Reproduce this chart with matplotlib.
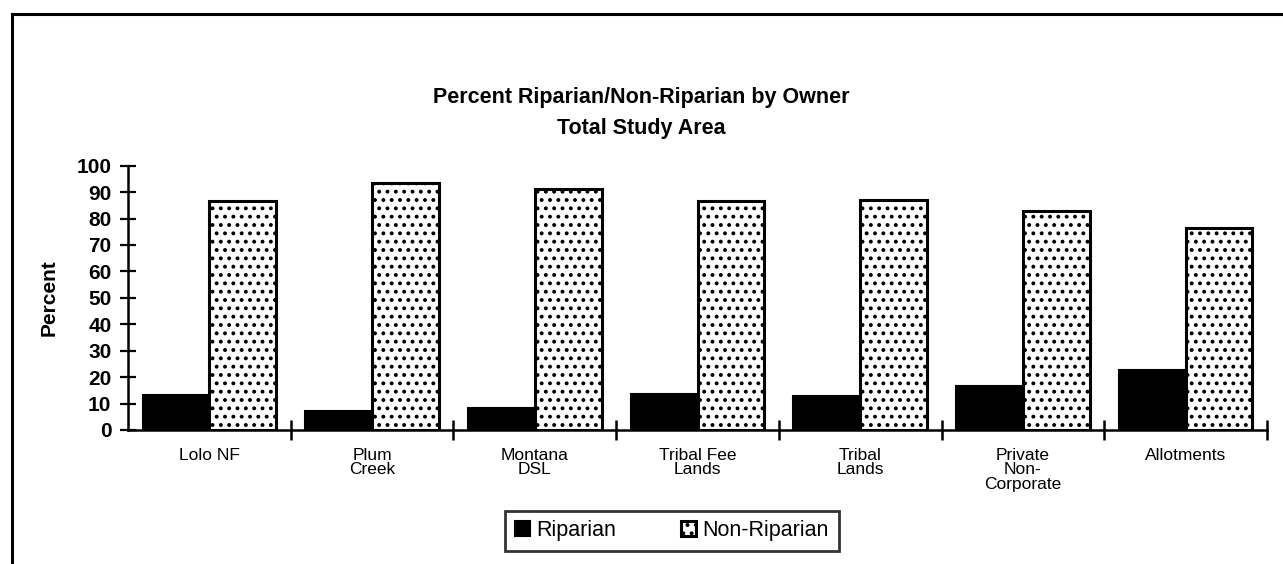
import matplotlib
matplotlib.use('Agg')
import matplotlib.pyplot as plt
import matplotlib.ticker as ticker
from matplotlib.lines import Line2D
import numpy as np

plt.rcParams['font.family'] = ['Liberation Sans', 'DejaVu Sans']
plt.rcParams['hatch.linewidth'] = 1.6

owners = ['Lolo NF', 'Plum\nCreek', 'Montana\nDSL', 'Tribal Fee\nLands',
          'Tribal\nLands', 'Private\nNon-\nCorporate', 'Allotments']
riparian = [13.2, 7.2, 8.3, 13.8, 12.8, 16.6, 22.8]
non_riparian = [86.8, 93.5, 91.2, 86.8, 86.9, 82.8, 76.5]
y_ticks = [0, 10, 20, 30, 40, 50, 60, 70, 80, 90, 100]

fig = plt.figure(figsize=(12.83, 5.64), dpi=100)
ax = fig.add_axes([0.0998, 0.2376, 0.8877, 0.4686])

x = np.arange(len(owners))
w = 0.41
ax.bar(x - w / 2, riparian, w, color='black', edgecolor='black', linewidth=1.5,
       label='Riparian', zorder=2)
ax.bar(x + w / 2, non_riparian, w, color='white', edgecolor='black', linewidth=2.2,
       hatch='..', label='Non-Riparian', zorder=2)

ax.set_xlim(-0.5, len(owners) - 0.5)
ax.set_ylim(0, 100)

# only left and bottom axis lines
for s in ['top', 'right']:
    ax.spines[s].set_visible(False)
for s in ['left', 'bottom']:
    ax.spines[s].set_linewidth(1.8)

ax.set_yticks(y_ticks)
ax.tick_params(axis='y', direction='inout', length=12, width=1.6, pad=6,
               labelsize=15)
for lab in ax.get_yticklabels():
    lab.set_fontweight('bold')

# group separators as major ticks, owner names on minor ticks
ax.set_xticks(x + 0.5)
ax.xaxis.set_major_formatter(ticker.NullFormatter())
ax.set_xticks(x, minor=True)
ax.set_xticklabels(owners, minor=True, fontsize=12.5, linespacing=0.95)
ax.tick_params(axis='x', which='major', direction='inout', length=14, width=1.8)
ax.tick_params(axis='x', which='minor', length=0, pad=13)

ax.set_ylabel('Percent', fontsize=15, fontweight='bold', labelpad=13)

fig.text(0.5, 0.828, 'Percent Riparian/Non-Riparian by Owner', ha='center', va='center',
         fontsize=15.5, fontweight='bold')
fig.text(0.5, 0.773, 'Total Study Area', ha='center', va='center',
         fontsize=15.5, fontweight='bold')

leg = ax.legend(loc='center', bbox_to_anchor=(0.4776, -0.382), ncol=2, fontsize=15.5,
                frameon=True, fancybox=False, edgecolor='black', handlelength=0.7,
                handleheight=0.7, handletextpad=0.3, columnspacing=3.0,
                borderpad=0.45, borderaxespad=0)
leg.get_frame().set_linewidth(2.0)

# page frame
fig.add_artist(Line2D([0.0094, 0.0094], [0, 0.975], color='black', lw=2.2))
fig.add_artist(Line2D([0.0094, 1.0], [0.975, 0.975], color='black', lw=2.2))

fig.savefig('out.png', dpi=100)
